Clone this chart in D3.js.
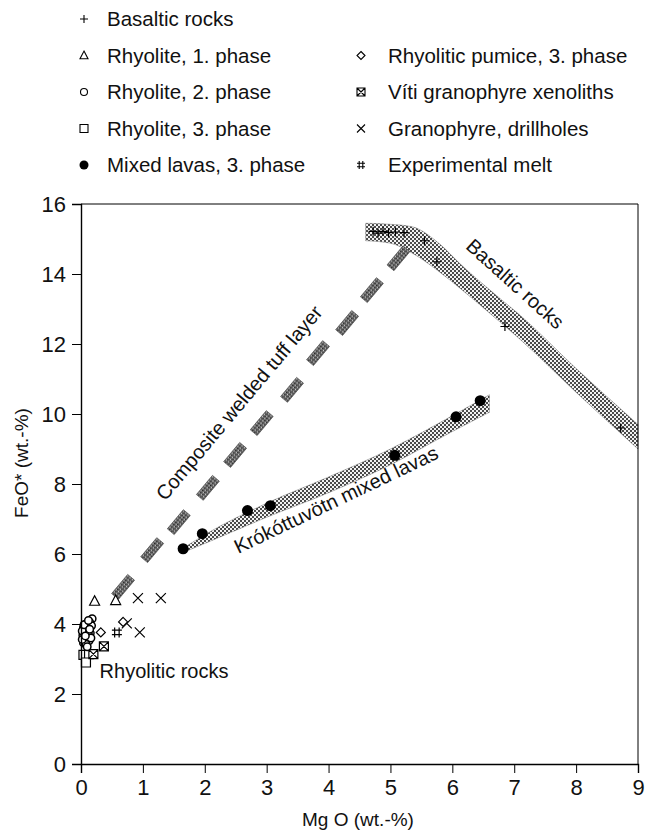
<!DOCTYPE html>
<html>
<head>
<meta charset="utf-8">
<script src="https://cdn.jsdelivr.net/npm/d3@7"></script>
<style>
  body { margin: 0; background: #fff; }
  text { font-family: "Liberation Sans", Arial, Helvetica, sans-serif; fill: #111; }
</style>
</head>
<body>
<svg id="chart" width="648" height="830"></svg>
<script>
// ---- axis ticks ----
const xTickValues = [0, 1, 2, 3, 4, 5, 6, 7, 8, 9];
const yTickValues = [0, 2, 4, 6, 8, 10, 12, 14, 16];

// ---- sample groups: [MgO, FeO*] (wt.-%) ----
const basalticRocks = [[4.72, 15.22], [4.8, 15.17], [4.88, 15.22], [4.97, 15.18], [5.08, 15.2],
                       [5.22, 15.18], [5.55, 14.95], [5.75, 14.35], [6.85, 12.5], [8.72, 9.6]];
const rhyolite1 = [[0.22, 4.65], [0.56, 4.67]];
const rhyolite2 = [[0.18, 4.15], [0.14, 4.05], [0.08, 4.0], [0.17, 3.95], [0.04, 3.9], [0.11, 3.85],
                   [0.06, 3.78], [0.15, 3.74], [0.03, 3.68], [0.1, 3.62], [0.06, 3.56], [0.13, 3.52],
                   [0.04, 3.46], [0.09, 3.9], [0.12, 3.7], [0.02, 3.8], [0.08, 3.42], [0.16, 3.6],
                   [0.05, 3.98], [0.1, 3.35], [0.02, 3.56], [0.14, 3.85], [0.07, 3.66], [0.12, 4.1]];
const rhyolite3 = [[0.04, 3.12], [0.13, 3.14], [0.08, 2.9]];
const mixedLavas = [[1.65, 6.15], [1.96, 6.58], [2.69, 7.24], [3.06, 7.38], [5.07, 8.82], [6.06, 9.92], [6.45, 10.38]];
const rhyoliticPumice = [[0.32, 3.76], [0.68, 4.06]];
const vitiXenoliths = [[0.37, 3.36], [0.2, 3.14]];
const granophyreDrillholes = [[0.92, 4.74], [1.29, 4.74], [0.74, 4.02], [0.95, 3.76]];
const experimentalMelt = [[0.58, 3.76]];

// ---- trend fields: [MgO, lower FeO*, upper FeO*] ----
const basaltBand = [[4.6, 14.95, 15.45], [5.0, 14.88, 15.42], [5.35, 14.6, 15.35], [5.8, 14.05, 14.85],
                    [6.12, 13.6, 14.3], [6.77, 12.63, 13.3], [7.09, 12.14, 12.83], [8.0, 10.62, 11.3],
                    [9.0, 9.0, 9.7]];
const mixedLavaBand = [[1.7, 6.08, 6.22], [2.0, 6.3, 6.55], [3.0, 7.05, 7.45], [4.0, 7.75, 8.2],
                       [5.0, 8.55, 9.0], [6.0, 9.5, 9.95], [6.6, 10.05, 10.55]];
// composite welded tuff layer, dash centres [MgO, FeO*]
const tuffDashes = [[0.68, 5.06], [1.15, 6.11], [1.58, 6.91], [2.05, 7.89], [2.49, 8.83], [2.92, 9.74],
                    [3.41, 10.69], [3.83, 11.74], [4.30, 12.6], [4.70, 13.54], [5.13, 14.45]];

const legendLeft = [["Basaltic rocks", "plus"], ["Rhyolite, 1. phase", "triangle"], ["Rhyolite, 2. phase", "circle"],
                    ["Rhyolite, 3. phase", "square"], ["Mixed lavas, 3. phase", "dot"]];
const legendRight = [["Rhyolitic pumice, 3. phase", "diamond"], ["Víti granophyre xenoliths", "boxx"],
                     ["Granophyre, drillholes", "cross"], ["Experimental melt", "hash"]];

const svg = d3.select("#chart");
const x = d3.scaleLinear().domain([0, 9]).range([81, 638]);
const y = d3.scaleLinear().domain([0, 16]).range([764, 204]);

// ---- fill textures ----
const defs = svg.append("defs");
const hatch = defs.append("pattern").attr("id", "band").attr("patternUnits", "userSpaceOnUse")
  .attr("width", 4).attr("height", 4);
hatch.append("rect").attr("width", 4).attr("height", 4).attr("fill", "#f2f2f2");
hatch.append("rect").attr("width", 2).attr("height", 2).attr("fill", "#4a4a4a");
hatch.append("rect").attr("x", 2).attr("y", 2).attr("width", 2).attr("height", 2).attr("fill", "#4a4a4a");

const dense = defs.append("pattern").attr("id", "dash").attr("patternUnits", "userSpaceOnUse")
  .attr("width", 3).attr("height", 3);
dense.append("rect").attr("width", 3).attr("height", 3).attr("fill", "#6e6e6e");
dense.append("rect").attr("width", 1).attr("height", 1).attr("fill", "#222");
dense.append("rect").attr("x", 1).attr("y", 1).attr("width", 1).attr("height", 1).attr("fill", "#3a3a3a");
dense.append("rect").attr("x", 2).attr("y", 2).attr("width", 1).attr("height", 1).attr("fill", "#cfcfcf");

// ---- trend fields ----
const band = d3.area().x(d => x(d[0])).y0(d => y(d[1])).y1(d => y(d[2])).curve(d3.curveMonotoneX);
svg.append("path").datum(basaltBand).attr("d", band)
  .attr("fill", "url(#band)").attr("stroke", "#777").attr("stroke-width", 0.5);
svg.append("path").datum(mixedLavaBand).attr("d", band)
  .attr("fill", "url(#band)").attr("stroke", "#777").attr("stroke-width", 0.5);

// composite tuff dashes: short bars aligned with the overall trend
const t0 = tuffDashes[0], t1 = tuffDashes[tuffDashes.length - 1];
const tuffAngle = Math.atan2(y(t1[1]) - y(t0[1]), x(t1[0]) - x(t0[0])) * 180 / Math.PI;
svg.append("g").selectAll("rect").data(tuffDashes).join("rect")
  .attr("x", -12.5).attr("y", -4.5).attr("width", 25).attr("height", 9)
  .attr("transform", d => `translate(${x(d[0])},${y(d[1])}) rotate(${tuffAngle})`)
  .attr("fill", "url(#dash)").attr("stroke", "#444").attr("stroke-width", 0.6);

// ---- symbols ----
function symbolPath(type, s) {
  const h = s / 2;
  switch (type) {
    case "plus": return `M${-h},0H${h}M0,${-h}V${h}`;
    case "cross": return `M${-h},${-h}L${h},${h}M${-h},${h}L${h},${-h}`;
    case "triangle": return `M0,${-h * 1.1}L${h},${h * 0.8}L${-h},${h * 0.8}Z`;
    case "square": return `M${-h},${-h}H${h}V${h}H${-h}Z`;
    case "diamond": return `M0,${-h}L${h},0L0,${h}L${-h},0Z`;
    case "boxx": return `M${-h},${-h}H${h}V${h}H${-h}ZM${-h},${-h}L${h},${h}M${-h},${h}L${h},${-h}`;
    case "hash": {
      const a = h * 0.45;
      return `M${-a},${-h}L${-a},${h}M${a},${-h}L${a},${h}M${-h},${-a}H${h}M${-h},${a}H${h}`;
    }
  }
  return "";
}
function drawSymbols(g, data, type, s, sw = 1.2) {
  if (type === "circle" || type === "dot") {
    g.selectAll(null).data(data).join("circle")
      .attr("cx", d => x(d[0])).attr("cy", d => y(d[1])).attr("r", s / 2)
      .attr("fill", type === "dot" ? "#000" : "#fff").attr("stroke", "#000")
      .attr("stroke-width", type === "dot" ? 0 : sw);
  } else {
    g.selectAll(null).data(data).join("path")
      .attr("transform", d => `translate(${x(d[0])},${y(d[1])})`)
      .attr("d", symbolPath(type, s))
      .attr("fill", type === "plus" || type === "cross" || type === "hash" ? "none" : "#fff")
      .attr("stroke", "#000").attr("stroke-width", sw);
  }
}

const marks = svg.append("g");
drawSymbols(marks.append("g"), mixedLavas, "dot", 11);
drawSymbols(marks.append("g"), basalticRocks, "plus", 9);
drawSymbols(marks.append("g"), granophyreDrillholes, "cross", 10);
drawSymbols(marks.append("g"), rhyolite3, "square", 9);
drawSymbols(marks.append("g"), vitiXenoliths, "boxx", 9);
drawSymbols(marks.append("g"), rhyolite2, "circle", 7.5, 1.5);
drawSymbols(marks.append("g"), rhyolite1, "triangle", 10);
drawSymbols(marks.append("g"), rhyoliticPumice, "diamond", 9);
drawSymbols(marks.append("g"), experimentalMelt, "hash", 10);

// ---- frame and axes ----
svg.append("path")
  .attr("d", `M${x(0)},${y(16)}H${x(9)}V${y(0)}`)
  .attr("fill", "none").attr("stroke", "#000").attr("stroke-width", 1);

const xAxis = svg.append("g").attr("transform", `translate(0,${y(0)})`);
xAxis.call(d3.axisBottom(x).tickValues(d3.range(0, 9.01, 0.2)).tickSize(5).tickFormat(""));
xAxis.call(d3.axisBottom(x).tickValues(xTickValues).tickSize(9).tickPadding(6).tickFormat(d3.format("d")));
const yAxis = svg.append("g").attr("transform", `translate(${x(0)},0)`);
yAxis.call(d3.axisLeft(y).tickValues(d3.range(0, 16.01, 0.5)).tickSize(5).tickFormat(""));
yAxis.call(d3.axisLeft(y).tickValues(yTickValues).tickSize(9).tickPadding(6).tickFormat(d3.format("d")));
svg.selectAll(".domain").attr("stroke", "#000").attr("stroke-width", 1.4);
svg.selectAll(".tick line").attr("stroke", "#000").attr("stroke-width", 1);
svg.selectAll(".tick text").attr("font-size", 22).attr("font-family", "Liberation Sans, Arial, sans-serif").attr("fill", "#111");

svg.append("text").attr("x", 358).attr("y", 826).attr("text-anchor", "middle")
  .attr("font-size", 19).text("Mg O (wt.-%)");
svg.append("text").attr("transform", `translate(28,${y(8.6)}) rotate(-90)`).attr("text-anchor", "middle")
  .attr("font-size", 19).text("FeO* (wt.-%)");

// ---- field labels ----
function label(txt, mg, fe, angle, size) {
  svg.append("text").attr("transform", `translate(${x(mg)},${y(fe)}) rotate(${angle})`)
    .attr("font-size", size).text(txt);
}
label("Composite welded tuff layer", 1.36, 7.49, tuffAngle, 20);
label("Krókóttuvötn mixed lavas", 2.54, 6.0, -25.5, 20);
label("Basaltic rocks", 6.2, 14.75, 42, 20);
label("Rhyolitic rocks", 0.3, 2.45, 0, 20);

// ---- legend ----
const legend = svg.append("g");
function legendItem(lbl, type, sx, tx, cy) {
  const g = legend.append("g");
  const s = type === "dot" ? 9 : 8;
  if (type === "circle" || type === "dot") {
    g.append("circle").attr("cx", sx).attr("cy", cy).attr("r", type === "dot" ? 4.5 : 3.5)
      .attr("fill", type === "dot" ? "#000" : "#fff").attr("stroke", "#000").attr("stroke-width", type === "dot" ? 0 : 1.1);
  } else {
    g.append("path").attr("transform", `translate(${sx},${cy})`).attr("d", symbolPath(type, s))
      .attr("fill", "none").attr("stroke", "#000").attr("stroke-width", 1.1);
  }
  g.append("text").attr("x", tx).attr("y", cy).attr("dy", "0.36em").attr("font-size", 20.5).text(lbl);
}
const rowY = i => 19 + i * 36.5;
legendLeft.forEach((d, i) => legendItem(d[0], d[1], 84, 107, rowY(i)));
legendRight.forEach((d, i) => legendItem(d[0], d[1], 361, 388, rowY(i + 1)));
</script>
</body>
</html>
